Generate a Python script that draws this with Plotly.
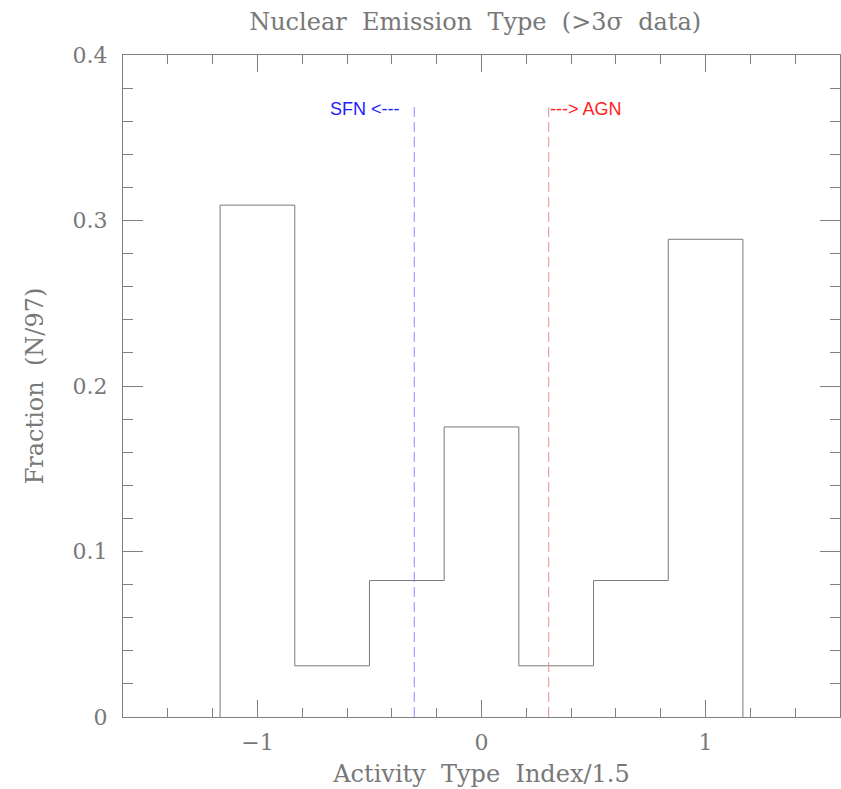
import plotly.graph_objects as go

# Histogram of activity type index (bins of width 1/3), counts out of N=97
bin_edges = [-7/6, -5/6, -3/6, -1/6, 1/6, 3/6, 5/6, 7/6]
counts = [30, 3, 8, 17, 3, 8, 28]
n_total = 97

# Classification boundaries
sfn_limit = -0.3
agn_limit = 0.3
boundary_top = 0.37

fractions = [c / n_total for c in counts]
step_x = [bin_edges[0]] + bin_edges
step_y = [0] + fractions + [0]

axis_grey = "#808080"
text_grey = "#787878"
serif = "DejaVu Serif, Liberation Serif, serif"
sans = "Liberation Sans, Arial, sans-serif"

fig = go.Figure()
fig.add_trace(go.Scatter(
    x=step_x, y=step_y, mode="lines", line_shape="hv",
    line=dict(color="#7a7a7a", width=1), hoverinfo="skip", showlegend=False,
))
fig.add_trace(go.Scatter(
    x=[sfn_limit, sfn_limit], y=[0, boundary_top], mode="lines",
    line=dict(color="#8c8cff", width=1, dash="10px,5px"), showlegend=False,
))
fig.add_trace(go.Scatter(
    x=[agn_limit, agn_limit], y=[0, boundary_top], mode="lines",
    line=dict(color="#e89090", width=1, dash="10px,5px"), showlegend=False,
))

fig.add_annotation(x=sfn_limit, y=boundary_top, text="SFN <---", showarrow=False,
                   xanchor="right", yanchor="middle", xshift=-12, yshift=-4,
                   font=dict(family=sans, size=18, color="#2222ff"))
fig.add_annotation(x=agn_limit, y=boundary_top, text="---> AGN", showarrow=False,
                   xanchor="left", yanchor="middle", xshift=-1, yshift=-4,
                   font=dict(family=sans, size=18, color="#ff2222"))

fig.update_layout(
    width=841, height=789,
    margin=dict(l=123, r=1, t=55, b=72),
    paper_bgcolor="white", plot_bgcolor="white",
    title=dict(text="Nuclear  Emission  Type  (>3σ  data)", x=0.565, xanchor="center",
               y=0.972, yanchor="middle",
               font=dict(family=serif, size=24, color=text_grey)),
    xaxis=dict(
        range=[-1.6, 1.6], tickvals=[-1, 0, 1], ticks="inside", ticklen=17,
        tickcolor=axis_grey, tickwidth=1,
        minor=dict(dtick=0.2, tick0=0, ticks="inside", ticklen=9, tickcolor=axis_grey),
        showline=True, linecolor=axis_grey, linewidth=1, mirror="ticks",
        showgrid=False, zeroline=False, ticklabelstandoff=6,
        tickfont=dict(family=serif, size=22, color=text_grey),
        title=dict(text="Activity  Type  Index/1.5", standoff=10,
                   font=dict(family=serif, size=24, color=text_grey)),
    ),
    yaxis=dict(
        range=[0, 0.4], ticks="inside", ticklen=20,
        tickvals=[0, 0.1, 0.2, 0.3, 0.4], ticktext=["0", "0.1", "0.2", "0.3", "0.4"],
        tickcolor=axis_grey, tickwidth=1,
        minor=dict(dtick=0.02, ticks="inside", ticklen=10, tickcolor=axis_grey),
        showline=True, linecolor=axis_grey, linewidth=1, mirror="ticks",
        showgrid=False, zeroline=False, ticklabelstandoff=10,
        tickfont=dict(family=serif, size=22, color=text_grey),
        title=dict(text="Fraction  (N/97)", standoff=22,
                   font=dict(family=serif, size=24, color=text_grey)),
    ),
)

fig.write_html("out.html")
